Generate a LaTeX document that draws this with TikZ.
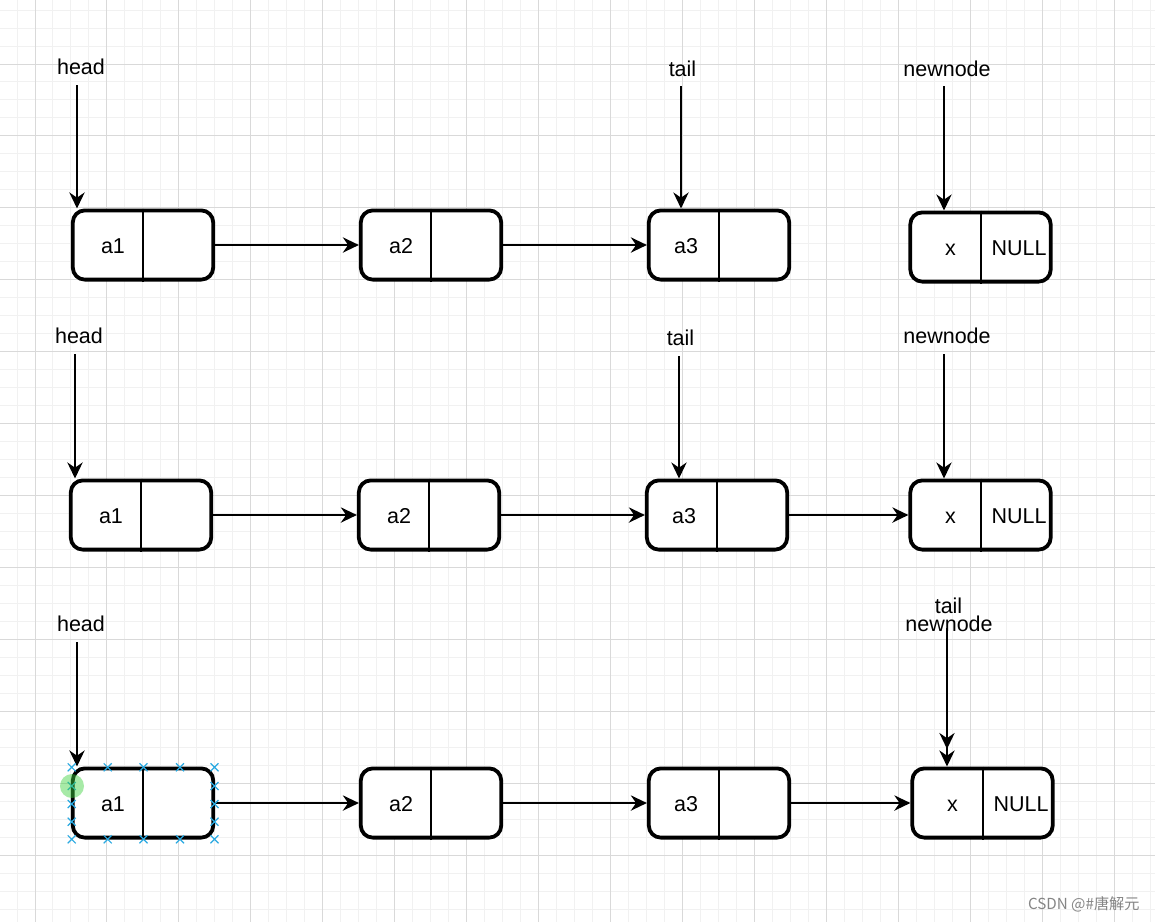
\documentclass[tikz,border=0pt]{standalone}
\usepackage{fontspec}
\setmainfont{Liberation Sans}
\newfontfamily\cjk{Noto Sans CJK SC}
\usetikzlibrary{arrows.meta}
\definecolor{majorgrid}{HTML}{D9D9D9}
\definecolor{minorgrid}{HTML}{F1F1F1}
\definecolor{selblue}{HTML}{29A9E1}
\definecolor{wmgray}{HTML}{858585}
\definecolor{selgreen}{HTML}{3CD23C}
\begin{document}
\begin{tikzpicture}[x=0.5pt,y=-0.5pt,
  cell/.style={draw, line width=1.9pt, rounded corners=6pt, minimum width=70.2pt, minimum height=34.6pt, inner sep=0pt, fill=white},
  divider/.style={line width=1pt},
  arr/.style={line width=1.2pt, -{Stealth[length=8pt,width=7.6pt,inset=2.6pt]}},
  txt/.style={font=\fontsize{10.75}{13}\selectfont, anchor=base, inner sep=0pt},
  minorline/.style={draw=minorgrid, line width=0.5pt},
  majorline/.style={draw=majorgrid, line width=0.5pt},
  selmark/.style={draw=selblue, line width=0.6pt}
]
\useasboundingbox (0,0) rectangle (1155,922);
\clip (0,0) rectangle (1155,922);
\fill[white] (0,0) rectangle (1155,922);
% grid
\foreach \i in {-1,...,62} {\draw[minorline] ({35+17.9875*\i},0) -- ({35+17.9875*\i},922);}
\foreach \i in {-3,...,47} {\draw[minorline] (0,{64+17.9875*\i}) -- (1155,{64+17.9875*\i});}
\foreach \i in {0,...,15} {\draw[majorline] ({35+71.95*\i},0) -- ({35+71.95*\i},922);}
\foreach \i in {0,...,11} {\draw[majorline] (0,{64+71.95*\i}) -- (1155,{64+71.95*\i});}

% ---------- row 1 ----------
\node[cell] (b11) at (143,245) {};
\node[cell] (b12) at (431,245) {};
\node[cell] (b13) at (719,245) {};
\node[cell] (b14) at (980.5,247) {};
\foreach \b in {b11,b12,b13,b14} {\draw[divider] (\b.north) -- (\b.south);}
\node[txt] (t11) at ([shift={(-30,8.5)}]b11.center) {a1};
\node[txt] (t12) at ([shift={(-30,8.5)}]b12.center) {a2};
\node[txt] (t13) at ([shift={(-33,8.5)}]b13.center) {a3};
\node[txt] (t14) at ([shift={(-30,8.5)}]b14.center) {x};
\node[txt] (n14) at ([shift={(38.5,8.5)}]b14.center) {NULL};
\draw[arr] (b11.east) -- (b12.west);
\draw[arr] (b12.east) -- (b13.west);
\node[txt] (hd1) at (81,74) {head};
\node[txt] (tl1) at (682.5,76) {tail};
\node[txt] (nn1) at (947,76) {newnode};
\coordinate (hd1a) at (77,85);
\coordinate (tl1a) at (681,86);
\coordinate (nn1a) at (944,86);
\draw[arr] (hd1a) -- (hd1a |- b11.north);
\draw[arr] (tl1a) -- (tl1a |- b13.north);
\draw[arr] (nn1a) -- (nn1a |- b14.north);

% ---------- row 2 ----------
\node[cell] (b21) at (141,515) {};
\node[cell] (b22) at (429,515) {};
\node[cell] (b23) at (717,515) {};
\node[cell] (b24) at (980.5,515) {};
\foreach \b in {b21,b22,b23,b24} {\draw[divider] (\b.north) -- (\b.south);}
\node[txt] (t21) at ([shift={(-30,8.5)}]b21.center) {a1};
\node[txt] (t22) at ([shift={(-30,8.5)}]b22.center) {a2};
\node[txt] (t23) at ([shift={(-33,8.5)}]b23.center) {a3};
\node[txt] (t24) at ([shift={(-30,8.5)}]b24.center) {x};
\node[txt] (n24) at ([shift={(38.5,8.5)}]b24.center) {NULL};
\draw[arr] (b21.east) -- (b22.west);
\draw[arr] (b22.east) -- (b23.west);
\draw[arr] (b23.east) -- (b24.west);
\node[txt] (hd2) at (79,343) {head};
\node[txt] (tl2) at (680.5,345) {tail};
\node[txt] (nn2) at (947,343) {newnode};
\coordinate (hd2a) at (75,354);
\coordinate (tl2a) at (679,356);
\coordinate (nn2a) at (944,354);
\draw[arr] (hd2a) -- (hd2a |- b21.north);
\draw[arr] (tl2a) -- (tl2a |- b23.north);
\draw[arr] (nn2a) -- (nn2a |- b24.north);

% ---------- row 3 ----------
\node[cell] (b31) at (143,803) {};
\node[cell] (b32) at (431,803) {};
\node[cell] (b33) at (719,803) {};
\node[cell] (b34) at (982.5,803) {};
\foreach \b in {b31,b32,b33,b34} {\draw[divider] (\b.north) -- (\b.south);}
\node[txt] (t31) at ([shift={(-30,8.5)}]b31.center) {a1};
\node[txt] (t32) at ([shift={(-30,8.5)}]b32.center) {a2};
\node[txt] (t33) at ([shift={(-33,8.5)}]b33.center) {a3};
\node[txt] (t34) at ([shift={(-30,8.5)}]b34.center) {x};
\node[txt] (n34) at ([shift={(38.5,8.5)}]b34.center) {NULL};
\draw[arr] (b31.east) -- (b32.west);
\draw[arr] (b32.east) -- (b33.west);
\draw[arr] (b33.east) -- (b34.west);
\node[txt] (hd3) at (81,631) {head};
\node[txt] (tl3) at (948.5,613) {tail};
\node[txt] (nn3) at (949,631.5) {newnode};
\coordinate (hd3a) at (77,642);
\coordinate (tn3a) at (947,628);
\coordinate (tn3b) at (947,749);
\draw[arr] (hd3a) -- (hd3a |- b31.north);
\draw[arr] (tn3a) -- (tn3b);
\draw[arr] (tn3a) -- (tn3a |- b34.north);

% selection handles on the first node of row 3
\foreach \px/\py in {71.7/767.3,107.7/767.3,143.5/767.3,180/767.3,214.5/767.3,
                     71.7/839.3,107.7/839.3,143.5/839.3,180/839.3,214.5/839.3,
                     71.7/786,71.7/804,71.7/821.7,214.5/786,214.5/804,214.5/821.7}
  {\draw[selmark] (\px-4,\py-4) -- (\px+4,\py+4) (\px-4,\py+4) -- (\px+4,\py-4);}
\fill[selgreen, fill opacity=0.45] (72,786) circle[radius=6pt];

% watermark
\node[font=\cjk\fontsize{7.6}{9}\selectfont, text=wmgray, anchor=base east, inner sep=0pt] (wm) at (1140,909.5) {CSDN @\#唐解元};
\end{tikzpicture}
\end{document}
